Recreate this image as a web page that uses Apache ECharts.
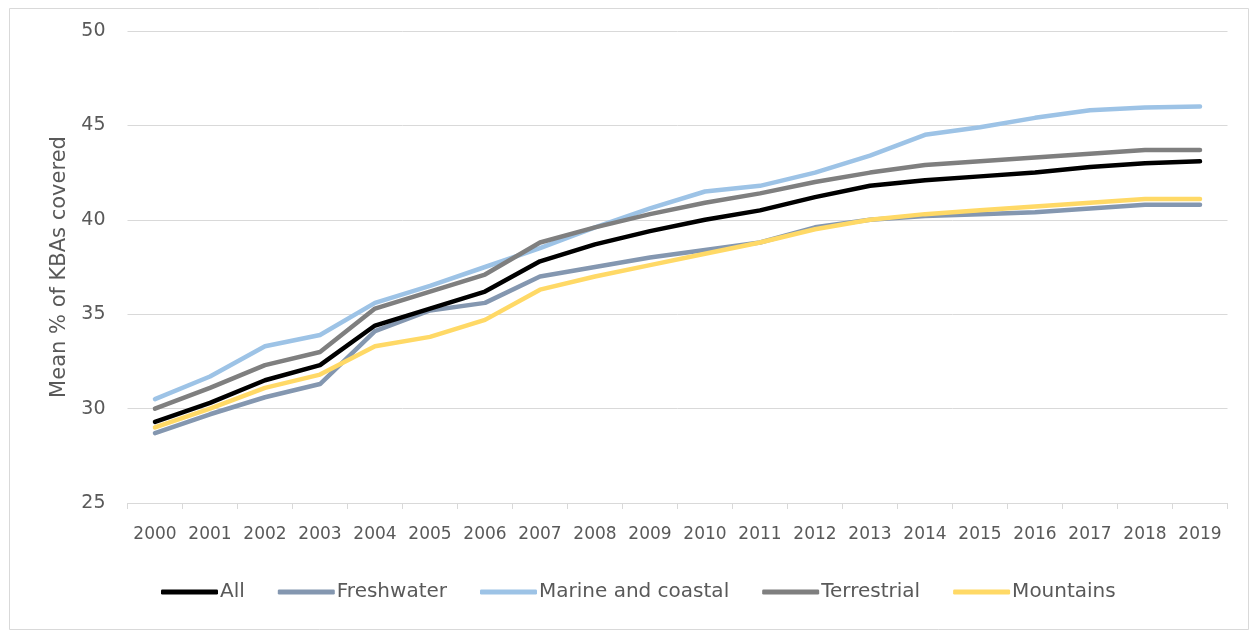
<!DOCTYPE html>
<html>
<head>
<meta charset="utf-8">
<script src="https://cdn.jsdelivr.net/npm/echarts@6/dist/echarts.min.js"></script>
<style>
html,body{margin:0;padding:0;background:#fff;}
#chart{width:1253px;height:631px;}
</style>
</head>
<body>
<div id="chart"></div>
<script>
const years = ['2000','2001','2002','2003','2004','2005','2006','2007','2008','2009','2010','2011','2012','2013','2014','2015','2016','2017','2018','2019'];
const allKBA = [29.3,30.3,31.5,32.3,34.4,35.3,36.2,37.8,38.7,39.4,40.0,40.5,41.2,41.8,42.1,42.3,42.5,42.8,43.0,43.1];
const freshwater = [28.7,29.7,30.6,31.3,34.1,35.2,35.6,37.0,37.5,38.0,38.4,38.8,39.6,40.0,40.2,40.3,40.4,40.6,40.8,40.8];
const marine = [30.5,31.7,33.3,33.9,35.6,36.5,37.5,38.5,39.6,40.6,41.5,41.8,42.5,43.4,44.5,44.9,45.4,45.8,45.95,46.0];
const terrestrial = [30.0,31.1,32.3,33.0,35.3,36.2,37.1,38.8,39.6,40.3,40.9,41.4,42.0,42.5,42.9,43.1,43.3,43.5,43.7,43.7];
const mountains = [29.0,30.0,31.1,31.8,33.3,33.8,34.7,36.3,37.0,37.6,38.2,38.8,39.5,40.0,40.3,40.5,40.7,40.9,41.1,41.1];
const seriesNames = ['All','Freshwater','Marine and coastal','Terrestrial','Mountains'];
const colors = ['#000000','#8497b0','#9dc3e6','#7f7f7f','#ffd966'];
const zOrder = [10,3,2,4,5];
const dataSets = [allKBA, freshwater, marine, terrestrial, mountains];

const chart = echarts.init(document.getElementById('chart'));
const font = 'DejaVu Sans';
chart.setOption({
  animation: false,
  backgroundColor: '#ffffff',
  graphic: [{
    type: 'rect', left: 7, top: 6, silent: true, z: -10,
    shape: {width: 1239, height: 621},
    style: {fill: 'none', stroke: '#d9d9d9', lineWidth: 1}
  }],
  grid: {left: 127.5, right: 25.5, top: 31, bottom: 128},
  legend: {
    data: seriesNames,
    left: 156, top: 577,
    itemWidth: 57, itemHeight: 5, itemGap: 33,
    icon: 'roundRect',
    textStyle: {fontFamily: font, fontSize: 20, color: '#595959', padding: [0,0,0,-3]}
  },
  xAxis: {
    type: 'category',
    data: years,
    boundaryGap: true,
    axisLine: {show: true, lineStyle: {color: '#d9d9d9', width: 1}},
    axisTick: {show: true, length: 6, lineStyle: {color: '#d9d9d9'}},
    axisLabel: {fontFamily: font, fontSize: 17, color: '#595959', margin: 23, interval: 0}
  },
  yAxis: {
    type: 'value',
    min: 25, max: 50, interval: 5,
    name: 'Mean % of KBAs covered',
    nameLocation: 'middle',
    nameGap: 56,
    nameTextStyle: {fontFamily: font, fontSize: 21, color: '#595959'},
    axisLine: {show: false},
    axisTick: {show: false},
    splitLine: {lineStyle: {color: '#d9d9d9', width: 1}},
    axisLabel: {fontFamily: font, fontSize: 19, color: '#595959', margin: 22}
  },
  series: seriesNames.map((n, i) => ({
    name: n,
    type: 'line',
    data: dataSets[i],
    symbol: 'none',
    z: zOrder[i],
    lineStyle: {color: colors[i], width: 4.5, cap: 'round', join: 'round'},
    itemStyle: {color: colors[i]}
  }))
});
</script>
</body>
</html>
